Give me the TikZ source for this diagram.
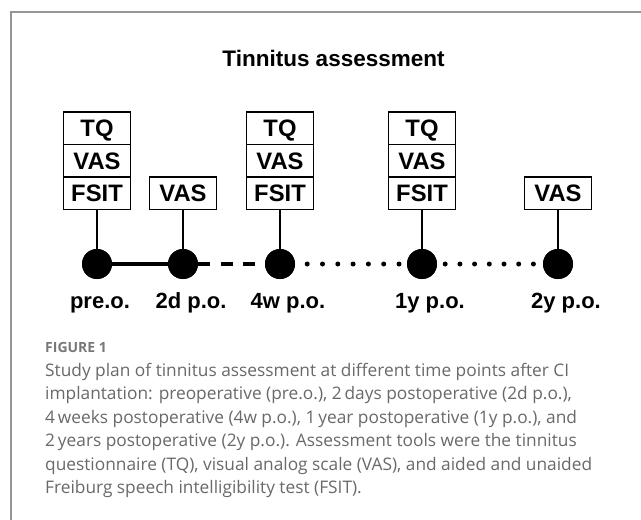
\documentclass[tikz,border=0pt]{standalone}
\usepackage{fontspec}
\setmainfont{Liberation Sans}
\newfontfamily\capfont{Open Sans}
\definecolor{framegray}{RGB}{150,150,150}
\definecolor{capgray}{RGB}{105,105,105}
\definecolor{figgray}{RGB}{120,120,120}
\begin{document}
\begin{tikzpicture}[x=1pt,y=-1pt,
  cell/.style={draw=black, line width=1.5pt, minimum width=67pt, minimum height=32.5pt, inner sep=0pt,
    text height=17pt, text depth=0pt, font=\bfseries\fontsize{23.8}{23.8}\selectfont},
  tdot/.style={circle, fill=black, minimum size=30pt, inner sep=0pt},
  lab/.style={inner sep=0pt, text height=15.75pt, text depth=0pt, font=\bfseries\fontsize{22}{22}\selectfont},
  stem/.style={line width=1.4pt},
  capline/.style={anchor=base west, inner sep=0pt, text=capgray, font=\capfont\fontsize{17.3}{17.3}\selectfont}
]
\useasboundingbox (0,0) rectangle (641,520);
\fill[white] (0,0) rectangle (641,520);
% frame
\draw[framegray, line width=1.3pt] (11,520) -- (11,12) -- (641,12);
% title
\node[anchor=base, inner sep=0pt, font=\bfseries\fontsize{22.5}{22.5}\selectfont] (title) at (333.5,66) {Tinnitus assessment};
% boxes
\node[cell] (tq1) at (97,128.25) {TQ};
\node[cell] (vas1) at (97,160.75) {VAS};
\node[cell] (fs1) at (97,193.25) {FSIT};
\node[cell] (vas2) at (183,193.25) {VAS};
\node[cell] (tq3) at (280,128.25) {TQ};
\node[cell] (vas3) at (280,160.75) {VAS};
\node[cell] (fs3) at (280,193.25) {FSIT};
\node[cell] (tq4) at (422,128.25) {TQ};
\node[cell] (vas4) at (422,160.75) {VAS};
\node[cell] (fs4) at (422,193.25) {FSIT};
\node[cell] (vas5) at (558,193.25) {VAS};
% time points
\node[tdot] (c1) at (97,264) {};
\node[tdot] (c2) at (183,264) {};
\node[tdot] (c3) at (280,264) {};
\node[tdot] (c4) at (422,264) {};
\node[tdot] (c5) at (558,264) {};
% stems
\draw[stem] (fs1.south) -- (c1.center);
\draw[stem] (vas2.south) -- (c2.center);
\draw[stem] (fs3.south) -- (c3.center);
\draw[stem] (fs4.south) -- (c4.center);
\draw[stem] (vas5.south) -- (c5.center);
% timeline
\draw[line width=4.5pt] (c1.east) -- (c2.west);
\draw[line width=4.5pt, dash pattern=on 12pt off 10.5pt] (c2.east) -- (c3.west);
\draw[line width=5pt, line cap=round, dash pattern=on 0pt off 15.3pt] ([xshift=12pt]c3.east) -- (c4.west);
\draw[line width=5pt, line cap=round, dash pattern=on 0pt off 14.7pt] ([xshift=8pt]c4.east) -- (c5.west);
% redraw dots on top
\node[tdot] at (c1) {};
\node[tdot] at (c2) {};
\node[tdot] at (c3) {};
\node[tdot] at (c4) {};
\node[tdot] at (c5) {};
% labels
\node[lab] (l1) at (100,301) {pre.o.};
\node[lab] (l2) at (191,301) {2d p.o.};
\node[lab] (l3) at (288,301) {4w p.o.};
\node[lab] (l4) at (430,301) {1y p.o.};
\node[lab] (l5) at (566,301) {2y p.o.};
% caption
\node[anchor=base west, inner sep=0pt, text=figgray, font=\capfont\bfseries\fontsize{14}{14}\selectfont] (fig) at (45,352) {FIGURE 1};
\node[capline] (cap1) at (45,376) {Study plan of tinnitus assessment at different time points after CI};
\node[capline] (cap2) at (45,399.5) {implantation: preoperative (pre.o.), 2\,days postoperative (2d p.o.),};
\node[capline] (cap3) at (45,423) {4\,weeks postoperative (4w p.o.), 1\,year postoperative (1y p.o.), and};
\node[capline] (cap4) at (45,446.5) {2\,years postoperative (2y p.o.). Assessment tools were the tinnitus};
\node[capline] (cap5) at (45,470) {questionnaire (TQ), visual analog scale (VAS), and aided and unaided};
\node[capline] (cap6) at (45,493.5) {Freiburg speech intelligibility test (FSIT).};
\end{tikzpicture}
\end{document}
